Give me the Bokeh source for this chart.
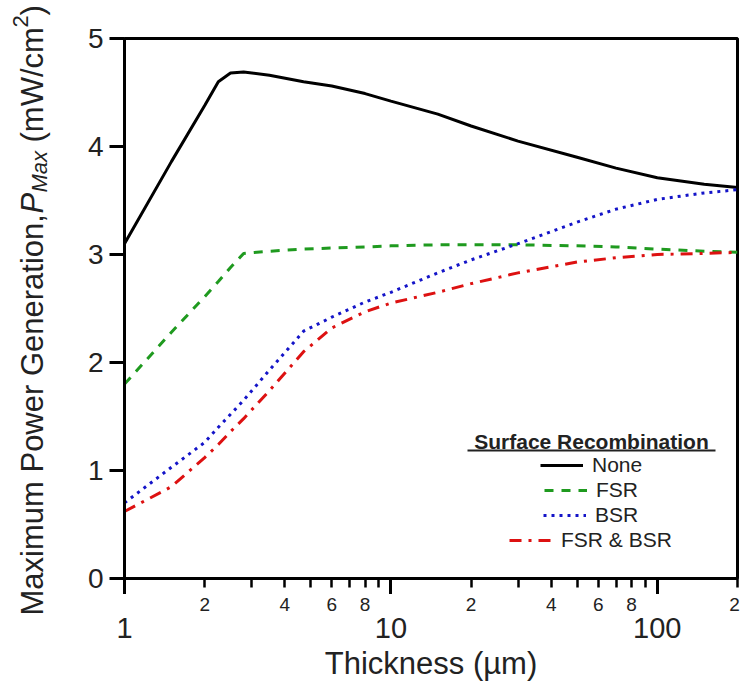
import math
from bokeh.plotting import figure
from bokeh.layouts import row, column
from bokeh.core.properties import value
from bokeh.models import (FixedTicker, Label, LabelSet, Legend, LegendItem,
                          BoxAnnotation, ColumnDataSource, Range1d)
from bokeh.embed import file_html
from bokeh.resources import INLINE

# ---------------- data ----------------
thickness = [1, 1.5, 2, 2.25, 2.5, 2.8, 3.5, 4.7, 6, 8, 10, 15, 20, 30, 50, 70, 100, 150, 200]
p_none = [3.10, 3.86, 4.38, 4.60, 4.68, 4.69, 4.66, 4.60, 4.56, 4.49, 4.42, 4.30, 4.19, 4.05, 3.90, 3.80, 3.71, 3.65, 3.62]
p_fsr = [1.80, 2.28, 2.61, 2.75, 2.88, 3.01, 3.03, 3.05, 3.06, 3.07, 3.08, 3.09, 3.09, 3.09, 3.08, 3.07, 3.05, 3.03, 3.02]
p_bsr = [0.70, 1.03, 1.26, 1.40, 1.52, 1.65, 1.93, 2.29, 2.42, 2.56, 2.65, 2.83, 2.95, 3.10, 3.30, 3.42, 3.51, 3.57, 3.60]
p_both = [0.62, 0.85, 1.12, 1.24, 1.36, 1.48, 1.74, 2.10, 2.32, 2.47, 2.55, 2.65, 2.73, 2.83, 2.93, 2.97, 3.00, 3.01, 3.02]

series_names = ["None", "FSR", "BSR", "FSR & BSR"]
x_min, x_max = 1, 200
major_x_ticks = [1, 10, 100]
major_x_labels = ["1", "10", "100"]
minor_x_ticks = [2, 3, 4, 5, 6, 7, 8, 9, 20, 30, 40, 50, 60, 70, 80, 90, 200]
minor_label_ticks = [2, 4, 6, 8, 20, 40, 60, 80, 200]
minor_label_text = ["2", "4", "6", "8", "2", "4", "6", "8", "2"]
y_ticks = [0, 1, 2, 3, 4, 5]

FONT = "Liberation Sans"
TXT = "#222222"

# layout geometry (pixels)
W, H = 741, 685
LEFT_STRIP = 56
FRAME_L, FRAME_R, FRAME_T, FRAME_B = 124, 737, 38, 578
TICK_STRIP_TOP = 594

# ---------------- main plot ----------------
p = figure(width=W - LEFT_STRIP, height=TICK_STRIP_TOP, x_axis_type="log",
           x_range=Range1d(x_min, x_max), y_range=Range1d(0, 5),
           output_backend="svg", toolbar_location=None,
           min_border_left=FRAME_L - LEFT_STRIP, min_border_right=W - FRAME_R,
           min_border_top=FRAME_T, min_border_bottom=TICK_STRIP_TOP - FRAME_B)
p.background_fill_color = "white"
p.border_fill_color = "white"
p.grid.visible = False
p.outline_line_color = "black"
p.outline_line_width = 3

r_none = p.line(thickness, p_none, line_color="black", line_width=3)
r_fsr = p.line(thickness, p_fsr, line_color="#1f9a1f", line_width=3, line_dash="9 8")
r_bsr = p.line(thickness, p_bsr, line_color="#1414c8", line_width=3, line_dash="3 5")
r_both = p.line(thickness, p_both, line_color="#dd1111", line_width=3, line_dash="12 7 3 7")

xa = p.xaxis[0]
xa.ticker = FixedTicker(ticks=major_x_ticks, minor_ticks=minor_x_ticks)
xa.axis_line_width = 3
xa.major_tick_line_width = 3
xa.minor_tick_line_width = 2.5
xa.major_tick_out = 16
xa.major_tick_in = 0
xa.minor_tick_out = 9
xa.minor_tick_in = 0
xa.major_label_text_font_size = "1px"
xa.major_label_text_alpha = 0
xa.major_label_standoff = 0

ya = p.yaxis[0]
ya.ticker = FixedTicker(ticks=y_ticks)
ya.axis_line_width = 3
ya.major_tick_line_width = 3
ya.major_tick_out = 15
ya.major_tick_in = 0
ya.minor_tick_line_color = None
ya.major_label_text_font = FONT
ya.major_label_text_font_size = "28px"
ya.major_label_text_color = TXT
ya.major_label_standoff = 6

# legend (each entry centred like the original)
renderers = [r_none, r_fsr, r_bsr, r_both]
locs = [(416, 101), (420, 76), (419, 51), (385, 26)]
for name, r, loc in zip(series_names, renderers, locs):
    leg = Legend(items=[LegendItem(label=name, renderers=[r])], location=loc,
                 border_line_color=None, background_fill_alpha=0,
                 padding=0, margin=0, spacing=0,
                 glyph_width=43, glyph_height=24, label_height=24, label_standoff=9,
                 label_text_font=FONT, label_text_font_size="21px",
                 label_text_color=TXT)
    p.add_layout(leg)

p.add_layout(Label(x=467, y=137, x_units="screen", y_units="screen",
                   text="Surface Recombination", text_align="center", text_baseline="middle",
                   text_font=FONT, text_font_size="21px", text_font_style="bold",
                   text_color=TXT))
p.add_layout(BoxAnnotation(left=343, right=591, bottom=127, top=129,
                           left_units="screen", right_units="screen",
                           bottom_units="screen", top_units="screen",
                           fill_color=TXT, fill_alpha=1, line_color=None))

# ---------------- x tick labels and x title (strip below, full width) ----------------
decade_px = (FRAME_R - FRAME_L) / math.log10(x_max / x_min)
bx_lo = x_min * 10 ** (-(FRAME_L - LEFT_STRIP) / decade_px)
bx_hi = x_max * 10 ** ((W - FRAME_R) / decade_px)
bf = figure(width=W - LEFT_STRIP, height=H - TICK_STRIP_TOP, x_axis_type="log",
            x_range=Range1d(bx_lo, bx_hi), y_range=Range1d(0, 1),
            output_backend="svg", toolbar_location=None,
            min_border_left=0, min_border_right=0, min_border_top=0, min_border_bottom=0,
            x_axis_location=None, y_axis_location=None)
bf.outline_line_color = None
bf.grid.visible = False

# the last label sits at the right edge; nudge it inside the page
edge_nudge = [0 if t < x_max else -3 for t in minor_label_ticks]
minor_src = ColumnDataSource(dict(x=minor_label_ticks, t=minor_label_text, dx=edge_nudge))
bf.add_layout(LabelSet(x="x", y=H - 610, y_units="screen", text="t", x_offset="dx",
                       source=minor_src,
                       text_align="center", text_baseline="alphabetic",
                       text_font=value(FONT), text_font_size="19px", text_color=TXT))
major_src = ColumnDataSource(dict(x=major_x_ticks, t=major_x_labels))
bf.add_layout(LabelSet(x="x", y=H - 637, y_units="screen", text="t", source=major_src,
                       text_align="center", text_baseline="alphabetic",
                       text_font=value(FONT), text_font_size="29px", text_color=TXT))
title_src = ColumnDataSource(dict(t=["Thickness (µm)"]))
bf.add_layout(LabelSet(x=(FRAME_L + FRAME_R) / 2 - LEFT_STRIP, y=H - 673,
                       x_units="screen", y_units="screen", text="t", source=title_src,
                       text_align="center", text_baseline="alphabetic",
                       text_font=value(FONT), text_font_size="31px", text_color=TXT))

# ---------------- y title (strip on the left) ----------------
yf = figure(width=LEFT_STRIP, height=H, x_range=Range1d(0, 1), y_range=Range1d(0, 1),
            output_backend="svg", toolbar_location=None,
            min_border_left=0, min_border_right=0, min_border_top=0, min_border_bottom=0,
            x_axis_location=None, y_axis_location=None)
yf.outline_line_color = None
yf.grid.visible = False

ang = math.pi / 2
pieces = [
    ("Maximum Power Generation,", 32, 70, "31px", "normal"),
    ("P", 32, 472, "31px", "italic"),
    ("Max", 39, 493, "22px", "italic"),
    ("(mW/cm", 32, 543, "31px", "normal"),
    ("2", 20, 658, "22px", "normal"),
    (")", 32, 670, "31px", "normal"),
]
for txt, x, y, fs, st in pieces:
    yf.add_layout(Label(x=x, y=y, x_units="screen", y_units="screen", text=txt, angle=ang,
                        text_align="left", text_baseline="alphabetic",
                        text_font=FONT, text_font_size=fs, text_font_style=st,
                        text_color=TXT))

layout = row(yf, column(p, row(bf)))
open("out.html", "w").write(file_html(layout, INLINE))
